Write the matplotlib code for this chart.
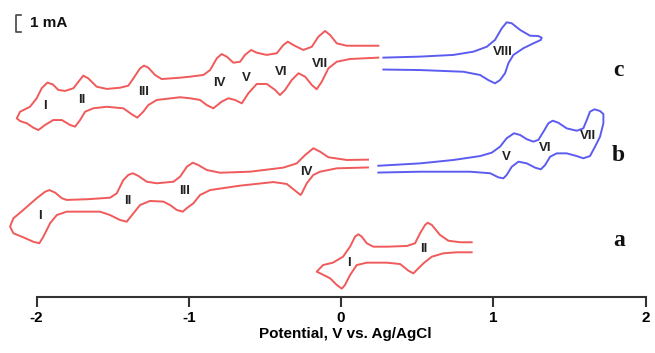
import matplotlib as mpl
mpl.use('Agg')
import matplotlib.pyplot as plt

# potentials in V vs Ag/AgCl, currents in mA (stacked as in the figure)

# trace a (red), reverse branch right->left, then forward branch left->right
a_rev_E = [0.858, 0.760, 0.672, 0.596, 0.541, 0.497, 0.475, 0.442, 0.388, 0.300,
           0.169, 0.103, 0.059, 0.026, 0.005, -0.028, -0.072, -0.127, -0.160]
a_rev_I = [2.63, 2.63, 2.57, 2.37, 1.98, 1.59, 1.39, 1.55, 1.94, 2.02,
           2.02, 1.88, 1.29, 0.71, 0.49, 0.71, 1.10, 1.35, 1.49]
a_fwd_E = [-0.160, -0.118, -0.053, 0.013, 0.059, 0.092, 0.114, 0.136, 0.169, 0.212,
           0.300, 0.432, 0.486, 0.519, 0.552, 0.569, 0.596, 0.650, 0.705, 0.782, 0.858]
a_fwd_I = [1.53, 1.88, 2.02, 2.37, 2.96, 3.55, 3.69, 3.55, 3.16, 2.96,
           2.96, 3.00, 3.16, 3.75, 4.24, 4.37, 4.24, 3.65, 3.31, 3.22, 3.22]

# trace b, red part
b_rev_E = [0.177, -0.028, -0.138, -0.182, -0.225, -0.258, -0.266, -0.302, -0.357, -0.445,
           -0.663, -0.860, -0.926, -0.970, -1.011, -1.040, -1.079, -1.123, -1.167, -1.255,
           -1.320, -1.364, -1.408, -1.452, -1.517, -1.583, -1.802, -1.867, -1.911, -1.955,
           -1.982, -2.021, -2.087, -2.152, -2.174]
b_rev_I = [7.62, 7.57, 7.37, 7.18, 6.69, 6.10, 6.00, 6.26, 6.65, 6.76,
           6.55, 6.29, 6.00, 5.51, 5.24, 5.02, 5.12, 5.41, 5.61, 5.65,
           5.41, 4.92, 4.43, 4.53, 4.82, 5.02, 5.02, 4.82, 4.34, 3.55,
           3.16, 3.25, 3.51, 3.75, 4.14]
b_fwd_E = [-2.174, -2.152, -2.087, -1.999, -1.944, -1.916, -1.878, -1.834, -1.802, -1.670,
           -1.517, -1.473, -1.430, -1.397, -1.368, -1.331, -1.276, -1.210, -1.101, -1.057,
           -1.013, -0.974, -0.937, -0.882, -0.795, -0.598, -0.379, -0.291, -0.236, -0.182,
           -0.138, -0.083, 0.037, 0.177]
b_fwd_I = [4.14, 4.63, 5.12, 5.81, 6.19, 6.29, 6.14, 5.81, 5.71, 5.75,
           5.84, 6.10, 6.88, 7.18, 7.28, 7.12, 6.78, 6.69, 6.78, 7.08,
           7.66, 7.90, 7.76, 7.47, 7.31, 7.37, 7.61, 7.86, 8.35, 8.75,
           8.55, 8.22, 8.06, 8.08]

# trace b, blue part (forward left->right, then back)
bb_E = [0.245, 0.519, 0.738, 0.913, 0.990, 1.044, 1.088, 1.136, 1.176, 1.220,
        1.263, 1.296, 1.329, 1.362, 1.390, 1.427, 1.482, 1.548, 1.591, 1.614,
        1.635, 1.664, 1.701, 1.723, 1.723, 1.701, 1.668, 1.635,
        1.591, 1.548, 1.482, 1.417, 1.373, 1.340, 1.312, 1.274, 1.220, 1.165,
        1.121, 1.088, 1.066, 1.033, 0.979, 0.847, 0.519, 0.245]
bb_I = [7.72, 7.86, 8.06, 8.29, 8.49, 8.84, 9.34, 9.63, 9.53, 9.28,
        9.14, 9.24, 9.72, 10.22, 10.37, 10.25, 9.92, 9.78, 9.92, 10.41,
        10.90, 11.04, 10.94, 10.76, 10.22, 9.43, 8.84, 8.29,
        8.16, 8.29, 8.45, 8.45, 8.25, 7.76, 7.51, 7.61, 7.86, 7.96,
        7.66, 7.18, 6.98, 7.04, 7.28, 7.37, 7.37, 7.32]

# trace c, red part
c_rev_E = [0.245, 0.059, -0.028, -0.083, -0.127, -0.160, -0.192, -0.236, -0.280, -0.324,
           -0.368, -0.401, -0.433, -0.488, -0.554, -0.609, -0.652, -0.696, -0.740, -0.784,
           -0.839, -0.882, -0.926, -0.992, -1.057, -1.210, -1.266, -1.299, -1.338, -1.375,
           -1.430, -1.539, -1.627, -1.681, -1.714, -1.747, -1.780, -1.834, -1.890, -1.944,
           -1.988, -2.021, -2.064, -2.108, -2.130]
c_rev_I = [14.08, 14.00, 13.84, 13.45, 12.66, 12.22, 12.47, 12.96, 13.16, 12.76,
           12.18, 11.88, 12.18, 12.53, 12.53, 11.98, 11.39, 11.59, 11.69, 11.49,
           11.10, 11.29, 11.59, 11.69, 11.75, 11.59, 11.29, 10.90, 10.55, 10.75,
           11.10, 11.19, 11.10, 10.90, 10.41, 10.02, 10.12, 10.41, 10.41, 10.12,
           9.82, 9.96, 10.22, 10.35, 10.51]
c_fwd_E = [-2.130, -2.108, -2.043, -1.999, -1.966, -1.929, -1.894, -1.857, -1.813, -1.758,
           -1.725, -1.693, -1.660, -1.605, -1.539, -1.452, -1.397, -1.364, -1.320, -1.294,
           -1.266, -1.222, -1.178, -1.057, -0.992, -0.904, -0.860, -0.816, -0.784, -0.751,
           -0.707, -0.663, -0.631, -0.591, -0.554, -0.488, -0.422, -0.379, -0.350, -0.313,
           -0.248, -0.192, -0.149, -0.105, -0.072, -0.028, 0.037, 0.245]
c_fwd_I = [10.61, 10.90, 11.19, 11.69, 12.28, 12.61, 12.51, 12.18, 12.12, 12.28,
           12.66, 13.02, 12.86, 12.37, 12.24, 12.31, 12.43, 12.86, 13.45, 13.61,
           13.49, 13.06, 12.82, 12.90, 12.96, 13.06, 13.35, 14.04, 14.29, 14.14,
           13.78, 13.84, 14.24, 14.53, 14.37, 14.24, 14.34, 14.82, 15.02, 14.82,
           14.53, 14.72, 15.31, 15.65, 15.41, 14.92, 14.78, 14.78]

# trace c, blue part
cb_E = [0.278, 0.519, 0.738, 0.869, 0.957, 1.011, 1.056, 1.088, 1.121, 1.176,
        1.241, 1.296, 1.318, 1.312, 1.263, 1.197, 1.132, 1.099, 1.077, 1.044,
        1.011, 0.967, 0.913, 0.803, 0.519, 0.278]
cb_I = [14.08, 14.14, 14.24, 14.43, 14.72, 15.12, 15.81, 16.16, 16.10, 15.71,
        15.37, 15.35, 15.25, 15.12, 14.92, 14.63, 14.24, 13.75, 13.16, 12.76,
        12.57, 12.76, 13.06, 13.25, 13.35, 13.38]

peak_labels = ['I', 'II', 'III', 'IV', 'V', 'VI', 'VII', 'VIII']
trace_names = ['a', 'b', 'c']
xticks = [-2, -1, 0, 1, 2]
xtick_labels = ['-2', '-1', '0', '1', '2']


def main():
    red = '#f05a5a'
    blue = '#5c5cf0'
    fig = plt.figure(figsize=(6.55, 3.53), dpi=100)
    ax = fig.add_axes([0, 0, 1, 1])

    ax.plot(a_rev_E + a_fwd_E[1:], a_rev_I + a_fwd_I[1:], color=red, lw=1.4)
    ax.plot(b_rev_E + b_fwd_E[1:], b_rev_I + b_fwd_I[1:], color=red, lw=1.4)
    ax.plot(bb_E, bb_I, color=blue, lw=1.4)
    ax.plot(c_rev_E + c_fwd_E[1:], c_rev_I + c_fwd_I[1:], color=red, lw=1.4)
    ax.plot(cb_E, cb_I, color=blue, lw=1.4)

    # peak labels: (label index, E, I)
    lab_pos = [(0, -1.948, 11.24), (1, -1.703, 11.59), (2, -1.294, 12.04), (3, -0.799, 12.57),
               (4, -0.624, 12.88), (5, -0.396, 13.25), (6, -0.138, 13.71), (7, 1.062, 14.43),
               (0, -1.977, 4.74), (1, -1.401, 5.66), (2, -1.025, 6.26), (3, -0.230, 7.38),
               (4, 1.088, 8.21), (5, 1.340, 8.74), (6, 1.624, 9.47),
               (0, 0.053, 2.02), (1, 0.545, 2.81)]
    for k, e, i in lab_pos:
        ax.text(e, i, peak_labels[k], ha='center', va='center', fontsize=9.5,
                fontweight='bold', color='#222222', family='Liberation Sans')

    for name, e, i in zip(trace_names, [1.83, 1.821, 1.821], [3.3, 8.35, 13.35]):
        ax.text(e, i, name, ha='center', va='center', fontsize=17,
                fontweight='bold', family='Liberation Serif', color='#111111')

    # 1 mA scale bar
    ax.plot([-2.101, -2.134, -2.134, -2.101], [16.59, 16.59, 15.59, 15.59],
            color='#444444', lw=1.2)
    ax.text(-2.045, 16.09, '1 mA', ha='left', va='center', fontsize=11,
            fontweight='bold', family='Liberation Sans', color='#111111')

    ax.set_xlim(-2.240, 2.062)
    ax.set_ylim(-3.294, 17.47)
    for s in ['left', 'right', 'top']:
        ax.spines[s].set_visible(False)
    ax.spines['bottom'].set_position(('data', 0))
    ax.spines['bottom'].set_bounds(-2, 2)
    ax.spines['bottom'].set_linewidth(1.5)
    ax.spines['bottom'].set_color('#333333')
    ax.set_yticks([])
    ax.set_xticks(xticks)
    ax.set_xticklabels(xtick_labels, fontsize=11, fontweight='bold', family='Liberation Sans')
    ax.tick_params(axis='x', direction='out', length=7, width=1.5, color='#333333', pad=3)
    ax.set_xlabel('Potential, V vs. Ag/AgCl', fontsize=11, fontweight='bold',
                  family='Liberation Sans')
    ax.xaxis.set_label_coords(0.527, 1 - 327 / 353)
    ax.patch.set_visible(False)

    fig.savefig('out.png', dpi=100)
    plt.close()
    return


if __name__ == "__main__":
    main()
